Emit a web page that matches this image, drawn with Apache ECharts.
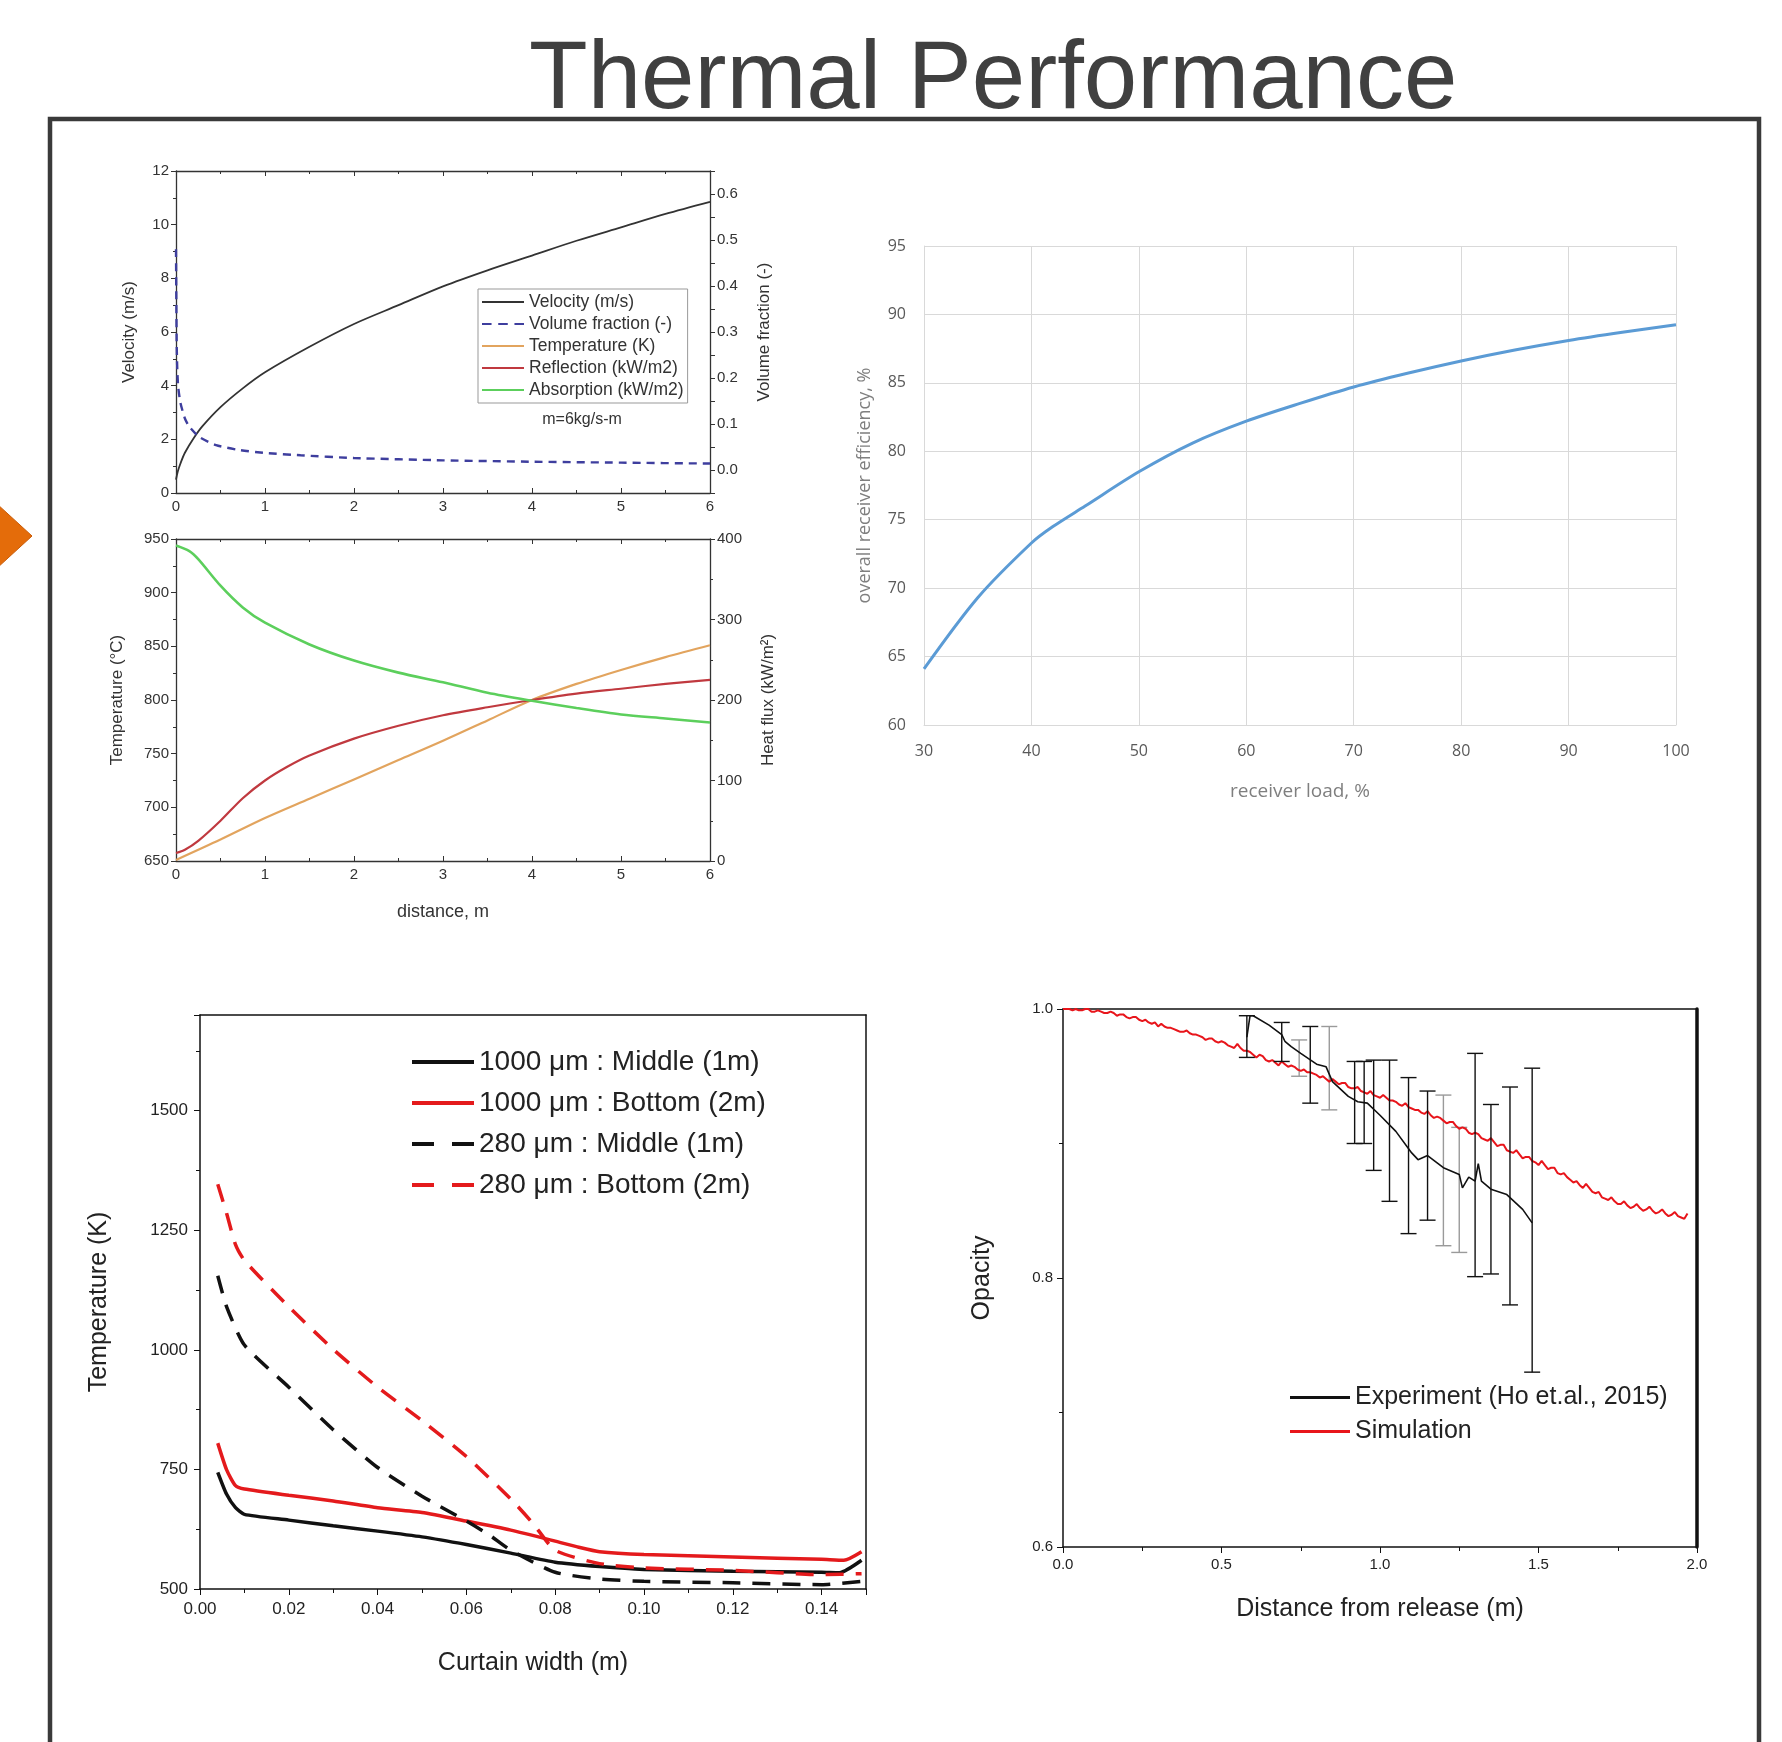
<!DOCTYPE html>
<html><head><meta charset="utf-8">
<script src="https://cdn.jsdelivr.net/npm/echarts@6/dist/echarts.min.js"></script>
<style>html,body{margin:0;padding:0;background:#fff}#c{width:1782px;height:1742px}</style>
</head><body><div id="c"></div>
<script>
// ---------- DATA ----------
const titleText = 'Thermal Performance';
// Chart 1 (top): velocity & volume fraction vs distance
const velocityData = [[0,0.5],[0.02,0.8],[0.05,1.1],[0.1,1.5],[0.2,2.05],[0.3,2.5],[0.5,3.2],[0.75,3.9],[1,4.5],[1.5,5.45],[2,6.3],[2.5,7.0],[3,7.7],[3.5,8.3],[4,8.85],[4.5,9.4],[5,9.9],[5.5,10.4],[6,10.85]];
const volFracData = [[0,0.48],[0.004,0.36],[0.008,0.27],[0.015,0.215],[0.025,0.18],[0.05,0.146],[0.1,0.112],[0.15,0.094],[0.26,0.072],[0.45,0.054],[0.71,0.0435],[1,0.037],[1.4,0.032],[2,0.026],[3,0.021],[4,0.018],[5,0.016],[6,0.014]];
// Chart 1 (bottom): temperature (°C), reflection & absorption (kW/m2)
const temperatureData = [[0,651],[0.5,670],[1,690],[1.5,708],[2,726],[2.5,744],[3,762],[3.5,781],[4,800],[4.5,815],[5,828],[5.5,840],[6,851]];
const reflectionData = [[0,10],[0.1,14],[0.25,25],[0.5,50],[0.75,78],[1,100],[1.25,117],[1.5,131],[2,152],[2.5,168],[3,181],[3.5,191],[4,200],[4.5,208],[5,214],[5.5,220],[6,225]];
const absorptionData = [[0,392],[0.15,385],[0.25,375],[0.5,342],[0.75,315],[1,296],[1.5,269],[2,249],[2.5,234],[3,222],[3.5,209],[4,199],[4.5,190],[5,182],[5.5,177],[6,172]];
const legend1Names = ['Velocity (m/s)','Volume fraction (-)','Temperature (K)','Reflection (kW/m2)','Absorption (kW/m2)'];
// Chart 2: efficiency vs load
const loadData = [30,35,40,42,45,50,55,60,65,70,75,80,85,90,95,100];
const efficiencyData = [64.1,69.3,73.3,74.5,76.0,78.5,80.6,82.2,83.5,84.7,85.7,86.6,87.4,88.1,88.7,89.25];
// Chart 3: temperature vs curtain width
const s1000Middle = [[0.004,744],[0.006,698],[0.008,670],[0.01,656],[0.02,644],[0.03,632],[0.04,621],[0.05,609],[0.06,593],[0.07,575],[0.08,556],[0.09,547],[0.10,541],[0.12,537],[0.14,535],[0.144,534],[0.149,560]];
const s1000Bottom = [[0.004,805],[0.006,749],[0.008,716],[0.01,709],[0.02,696],[0.03,684],[0.04,670],[0.05,660],[0.06,642],[0.07,623],[0.08,600],[0.085,588],[0.09,578],[0.10,572],[0.12,567],[0.14,562],[0.145,560],[0.149,578]];
const s280Middle = [[0.004,1155],[0.006,1090],[0.01,1010],[0.02,922],[0.03,833],[0.04,754],[0.05,694],[0.06,642],[0.065,614],[0.07,581],[0.08,535],[0.09,521],[0.10,516],[0.12,513],[0.14,509],[0.149,516]];
const s280Bottom = [[0.004,1346],[0.006,1285],[0.008,1220],[0.01,1187],[0.02,1090],[0.03,1001],[0.04,922],[0.05,852],[0.06,777],[0.07,688],[0.075,637],[0.08,581],[0.09,553],[0.10,544],[0.12,539],[0.14,530],[0.149,532]];
const legend3Names = ['1000 \u03bcm : Middle (1m)','1000 \u03bcm : Bottom (2m)','280 \u03bcm : Middle (1m)','280 \u03bcm : Bottom (2m)'];
// Chart 4: opacity vs distance
const simulationData = [[0,1.000],[0.01,1.000],[0.02,1.000],[0.03,0.999],[0.04,1.000],[0.05,0.999],[0.06,0.999],[0.07,1.000],[0.08,1.000],[0.09,0.998],[0.10,0.998],[0.11,0.999],[0.12,0.998],[0.13,0.997],[0.14,0.997],[0.15,0.998],[0.16,0.997],[0.17,0.995],[0.18,0.996],[0.19,0.996],[0.20,0.994],[0.21,0.993],[0.22,0.994],[0.23,0.994],[0.24,0.992],[0.25,0.991],[0.26,0.992],[0.27,0.990],[0.28,0.989],[0.29,0.990],[0.30,0.987],[0.31,0.989],[0.32,0.987],[0.33,0.986],[0.34,0.986],[0.35,0.985],[0.36,0.984],[0.37,0.983],[0.38,0.983],[0.39,0.984],[0.40,0.982],[0.41,0.981],[0.42,0.981],[0.43,0.980],[0.44,0.979],[0.45,0.977],[0.46,0.978],[0.47,0.978],[0.48,0.976],[0.49,0.975],[0.50,0.976],[0.51,0.975],[0.52,0.973],[0.53,0.972],[0.54,0.971],[0.55,0.974],[0.56,0.971],[0.57,0.969],[0.58,0.969],[0.59,0.968],[0.60,0.966],[0.61,0.964],[0.62,0.966],[0.63,0.965],[0.64,0.962],[0.65,0.961],[0.66,0.962],[0.67,0.960],[0.68,0.958],[0.69,0.961],[0.70,0.959],[0.71,0.957],[0.72,0.958],[0.73,0.957],[0.74,0.955],[0.75,0.954],[0.76,0.955],[0.77,0.953],[0.78,0.953],[0.79,0.952],[0.80,0.951],[0.81,0.949],[0.82,0.950],[0.83,0.948],[0.84,0.946],[0.85,0.948],[0.86,0.946],[0.87,0.944],[0.88,0.945],[0.89,0.945],[0.90,0.942],[0.91,0.941],[0.92,0.941],[0.93,0.942],[0.94,0.939],[0.95,0.938],[0.96,0.937],[0.97,0.939],[0.98,0.936],[0.99,0.935],[1.00,0.934],[1.01,0.936],[1.02,0.934],[1.03,0.932],[1.04,0.932],[1.05,0.931],[1.06,0.929],[1.07,0.928],[1.08,0.930],[1.09,0.927],[1.10,0.926],[1.11,0.925],[1.12,0.925],[1.13,0.923],[1.14,0.922],[1.15,0.924],[1.16,0.921],[1.17,0.919],[1.18,0.920],[1.19,0.919],[1.20,0.917],[1.21,0.915],[1.22,0.916],[1.23,0.916],[1.24,0.913],[1.25,0.911],[1.26,0.912],[1.27,0.911],[1.28,0.908],[1.29,0.907],[1.30,0.908],[1.31,0.907],[1.32,0.904],[1.33,0.903],[1.34,0.902],[1.35,0.904],[1.36,0.901],[1.37,0.898],[1.38,0.899],[1.39,0.899],[1.40,0.895],[1.41,0.894],[1.42,0.893],[1.43,0.895],[1.44,0.892],[1.45,0.889],[1.46,0.890],[1.47,0.890],[1.48,0.887],[1.49,0.886],[1.50,0.884],[1.51,0.887],[1.52,0.884],[1.53,0.881],[1.54,0.882],[1.55,0.882],[1.56,0.878],[1.57,0.877],[1.58,0.878],[1.59,0.875],[1.60,0.873],[1.61,0.871],[1.62,0.872],[1.63,0.869],[1.64,0.867],[1.65,0.870],[1.66,0.867],[1.67,0.864],[1.68,0.863],[1.69,0.864],[1.70,0.860],[1.71,0.859],[1.72,0.858],[1.73,0.860],[1.74,0.857],[1.75,0.855],[1.76,0.855],[1.77,0.857],[1.78,0.854],[1.79,0.852],[1.80,0.853],[1.81,0.855],[1.82,0.852],[1.83,0.850],[1.84,0.851],[1.85,0.853],[1.86,0.850],[1.87,0.848],[1.88,0.849],[1.89,0.851],[1.90,0.848],[1.91,0.846],[1.92,0.847],[1.93,0.849],[1.94,0.846],[1.95,0.845],[1.96,0.844],[1.97,0.848]];
const experimentData = [[0.58,0.979],[0.59,0.995],[0.6,0.995],[0.65,0.988],[0.69,0.981],[0.7,0.976],[0.72,0.972],[0.75,0.967],[0.8,0.959],[0.83,0.957],[0.85,0.946],[0.9,0.935],[0.93,0.931],[0.96,0.930],[1.0,0.921],[1.05,0.909],[1.1,0.893],[1.12,0.888],[1.15,0.891],[1.2,0.882],[1.25,0.877],[1.26,0.867],[1.28,0.875],[1.3,0.872],[1.31,0.885],[1.32,0.872],[1.35,0.866],[1.4,0.862],[1.45,0.851],[1.48,0.841]];
const errBarsDark = [[0.58,0.964,0.995],[0.69,0.961,0.990],[0.78,0.930,0.987],[0.92,0.900,0.961],[0.95,0.900,0.961],[0.98,0.880,0.962],[1.03,0.857,0.962],[1.09,0.833,0.949],[1.15,0.843,0.939],[1.30,0.801,0.967],[1.35,0.803,0.929],[1.41,0.780,0.942],[1.48,0.730,0.956]];
const errBarsLight = [[0.745,0.950,0.977],[0.84,0.925,0.987],[1.20,0.824,0.936],[1.25,0.819,0.912]];
const legend4Names = ['Experiment (Ho et.al., 2015)','Simulation'];

// ---------- CHART ----------
const F = 'Liberation Sans, Arial, sans-serif';
const F2 = 'Open Sans, Lato, sans-serif';
const SOLID = 'path://M0,0H60V4H0Z';
const DASH1 = 'path://M0,0H10V4H0ZM17,0H27V4H17ZM34,0H44V4H34Z';
const DASH3 = 'path://M0,0H22V4H0ZM40,0H62V4H40Z';
const chart = echarts.init(document.getElementById('c'), null, {renderer:'canvas'});
const axLine = (w,c) => ({show:true, onZero:false, lineStyle:{color:c||'#333', width:w||1.3}});
const mirrorX = (g, min, max, interval, ticks) => ({gridIndex:g, type:'value', position:'top', min, max, interval,
  axisLine:axLine(1.3), axisLabel:{show:false}, splitLine:{show:false},
  axisTick:{show:!!ticks, inside:true, length:5, lineStyle:{color:'#333'}},
  minorTick:{show:!!ticks, splitNumber:2, length:3, lineStyle:{color:'#333'}}});
const plain = v => String(v);

function errRender(color){
  return function(params, api){
    const x = api.value(0), lo = api.value(1), hi = api.value(2);
    const a = api.coord([x, hi]), b = api.coord([x, lo]);
    const w = 8, st = {stroke:color, lineWidth:1.4};
    return {type:'group', children:[
      {type:'line', shape:{x1:a[0],y1:a[1],x2:b[0],y2:b[1]}, style:st},
      {type:'line', shape:{x1:a[0]-w,y1:a[1],x2:a[0]+w,y2:a[1]}, style:st},
      {type:'line', shape:{x1:b[0]-w,y1:b[1],x2:b[0]+w,y2:b[1]}, style:st}
    ]};
  };
}

const option = {
  backgroundColor:'#fff',
  animation:false,
  textStyle:{fontFamily:F},
  graphic:[
    {type:'text', left:991-462, top:34, style:{text:titleText, font:'96px Liberation Sans, Arial, sans-serif', fill:'#404040'}},
    {type:'rect', shape:{x:50, y:119, width:1709, height:1650}, style:{fill:'none', stroke:'#3a3a3a', lineWidth:4.5}},
    {type:'polygon', shape:{points:[[-4,503],[32,536],[-4,569]]}, style:{fill:'#E46C0A', stroke:'#c85a05', lineWidth:1}},
    {type:'text', x:582, y:420, style:{text:'m=6kg/s-m', font:'16px Liberation Sans, Arial, sans-serif', fill:'#333', textAlign:'center', textVerticalAlign:'middle'}}
  ],
  grid:[
    {left:176, top:171, width:534, height:322},
    {left:176, top:539, width:534, height:322},
    {left:924, top:246, width:752, height:479},
    {left:200, top:1015, width:666, height:574},
    {left:1063, top:1009, width:634, height:538}
  ],
  legend:[
    {data:[{name:legend1Names[0],icon:SOLID},{name:legend1Names[1],icon:DASH1},{name:legend1Names[2],icon:SOLID},{name:legend1Names[3],icon:SOLID},{name:legend1Names[4],icon:SOLID}],
     left:478, top:289, orient:'vertical', itemGap:4, itemWidth:42, itemHeight:2, symbolKeepAspect:false,
     textStyle:{fontSize:17.5, color:'#333', fontFamily:F}, borderColor:'#999', borderWidth:1, padding:[4,4,4,4], selectedMode:false},
    {data:[{name:legend3Names[0],icon:SOLID},{name:legend3Names[1],icon:SOLID},{name:legend3Names[2],icon:DASH3},{name:legend3Names[3],icon:DASH3}],
     left:407, top:1043, orient:'vertical', itemGap:13, itemWidth:62, itemHeight:4, symbolKeepAspect:false,
     textStyle:{fontSize:28, color:'#222', fontFamily:F}, selectedMode:false},
    {data:[{name:legend4Names[0],icon:SOLID},{name:legend4Names[1],icon:SOLID}],
     left:1285, top:1380, orient:'vertical', itemGap:9, itemWidth:60, itemHeight:3, symbolKeepAspect:false,
     textStyle:{fontSize:25, color:'#222', fontFamily:F}, selectedMode:false}
  ],
  xAxis:[
    {gridIndex:0, type:'value', min:0, max:6, interval:1, axisLine:axLine(1.3),
     axisTick:{inside:true, length:5, lineStyle:{color:'#333'}}, minorTick:{show:true, splitNumber:2, length:3, lineStyle:{color:'#333'}},
     axisLabel:{fontSize:15, color:'#333', margin:6}, splitLine:{show:false}},
    mirrorX(0,0,6,1,true),
    {gridIndex:1, type:'value', min:0, max:6, interval:1, axisLine:axLine(1.3),
     axisTick:{inside:true, length:5, lineStyle:{color:'#333'}}, minorTick:{show:true, splitNumber:2, length:3, lineStyle:{color:'#333'}},
     axisLabel:{fontSize:15, color:'#333', margin:6}, splitLine:{show:false},
     name:'distance, m', nameLocation:'middle', nameGap:42, nameTextStyle:{fontSize:18, color:'#333'}},
    mirrorX(1,0,6,1,true),
    {gridIndex:2, type:'value', min:30, max:100, interval:10, axisLine:{show:true, onZero:false, lineStyle:{color:'#d9d9d9'}},
     axisTick:{show:false}, axisLabel:{fontSize:16, color:'#595959', margin:18, fontFamily:F2},
     splitLine:{show:true, lineStyle:{color:'#d9d9d9', width:1}},
     name:'receiver load, %', nameLocation:'middle', nameGap:57, nameTextStyle:{fontSize:19, color:'#7f7f7f', fontFamily:F2}},
    {gridIndex:3, type:'value', min:0, max:0.15, interval:0.02, axisLine:axLine(1.5,'#111'),
     axisTick:{length:6, lineStyle:{color:'#111'}}, minorTick:{show:true, splitNumber:2, length:4, lineStyle:{color:'#111'}},
     axisLabel:{fontSize:17, color:'#222', margin:12, showMaxLabel:false, formatter:v=>v.toFixed(2)}, splitLine:{show:false},
     name:'Curtain width (m)', nameLocation:'middle', nameGap:62, nameTextStyle:{fontSize:25, color:'#222'}},
    {gridIndex:3, type:'value', position:'top', min:0, max:0.15, axisLine:axLine(1.5,'#111'), axisTick:{show:false}, axisLabel:{show:false}, splitLine:{show:false}},
    {gridIndex:4, type:'value', min:0, max:2, interval:0.5, axisLine:axLine(1.5,'#111'),
     axisTick:{length:6, lineStyle:{color:'#111'}}, minorTick:{show:true, splitNumber:2, length:4, lineStyle:{color:'#111'}},
     axisLabel:{fontSize:15, color:'#222', margin:10, formatter:v=>v.toFixed(1)}, splitLine:{show:false},
     name:'Distance from release (m)', nameLocation:'middle', nameGap:50, nameTextStyle:{fontSize:25, color:'#222'}},
    {gridIndex:4, type:'value', position:'top', min:0, max:2, axisLine:axLine(1.5,'#111'), axisTick:{show:false}, axisLabel:{show:false}, splitLine:{show:false}}
  ],
  yAxis:[
    {gridIndex:0, type:'value', min:0, max:12, interval:2, axisLine:axLine(1.3),
     axisTick:{length:5, lineStyle:{color:'#333'}}, minorTick:{show:true, splitNumber:2, length:3, lineStyle:{color:'#333'}},
     axisLabel:{fontSize:15, color:'#333', margin:7, formatter:plain}, splitLine:{show:false},
     name:'Velocity (m/s)', nameLocation:'middle', nameGap:38, nameTextStyle:{fontSize:17, color:'#333'}},
    {gridIndex:0, type:'value', position:'right', min:-0.05, max:0.65, interval:0.05, axisLine:axLine(1.3),
     axisTick:{length:5, lineStyle:{color:'#333'}},
     axisLabel:{fontSize:15, color:'#333', margin:7, formatter:v=>{const k=Math.round(v*100); return (k>=0 && k<=60 && k%10===0)? (k/100).toFixed(1):'';}},
     splitLine:{show:false},
     name:'Volume fraction (-)', nameLocation:'middle', nameGap:46, nameRotate:90, nameTextStyle:{fontSize:17, color:'#333'}},
    {gridIndex:1, type:'value', min:650, max:950, interval:50, axisLine:axLine(1.3),
     axisTick:{length:5, lineStyle:{color:'#333'}}, minorTick:{show:true, splitNumber:2, length:3, lineStyle:{color:'#333'}},
     axisLabel:{fontSize:15, color:'#333', margin:7, formatter:plain}, splitLine:{show:false},
     name:'Temperature (\u00b0C)', nameLocation:'middle', nameGap:50, nameTextStyle:{fontSize:17, color:'#333'}},
    {gridIndex:1, type:'value', position:'right', min:0, max:400, interval:100, axisLine:axLine(1.3),
     axisTick:{length:5, lineStyle:{color:'#333'}}, minorTick:{show:true, splitNumber:2, length:3, lineStyle:{color:'#333'}},
     axisLabel:{fontSize:15, color:'#333', margin:7, formatter:plain}, splitLine:{show:false},
     name:'Heat flux (kW/m\u00b2)', nameLocation:'middle', nameGap:50, nameRotate:90, nameTextStyle:{fontSize:17, color:'#333'}},
    {gridIndex:2, type:'value', min:60, max:95, interval:5, axisLine:{show:true, onZero:false, lineStyle:{color:'#d9d9d9'}},
     axisTick:{show:false}, axisLabel:{fontSize:16, color:'#595959', margin:18, fontFamily:F2},
     splitLine:{show:true, lineStyle:{color:'#d9d9d9', width:1}},
     name:'overall receiver efficiency, %', nameLocation:'middle', nameGap:50, nameTextStyle:{fontSize:18, color:'#7f7f7f', fontFamily:F2}},
    {gridIndex:3, type:'value', min:500, max:1700, interval:250, axisLine:axLine(1.5,'#111'),
     axisTick:{length:6, lineStyle:{color:'#111'}}, minorTick:{show:true, splitNumber:2, length:4, lineStyle:{color:'#111'}},
     axisLabel:{fontSize:17, color:'#222', margin:12, showMaxLabel:false, formatter:plain}, splitLine:{show:false},
     name:'Temperature (K)', nameLocation:'middle', nameGap:88, nameTextStyle:{fontSize:25, color:'#222'}},
    {gridIndex:3, type:'value', position:'right', min:500, max:1700, axisLine:axLine(1.5,'#111'), axisTick:{show:false}, axisLabel:{show:false}, splitLine:{show:false}},
    {gridIndex:4, type:'value', min:0.6, max:1.0, interval:0.2, axisLine:axLine(1.5,'#111'),
     axisTick:{length:6, lineStyle:{color:'#111'}}, minorTick:{show:true, splitNumber:2, length:4, lineStyle:{color:'#111'}},
     axisLabel:{fontSize:15, color:'#222', margin:10, formatter:v=>v.toFixed(1)}, splitLine:{show:false},
     name:'Opacity', nameLocation:'middle', nameGap:68, nameTextStyle:{fontSize:25, color:'#222'}},
    {gridIndex:4, type:'value', position:'right', min:0.6, max:1.0, axisLine:axLine(3.5,'#111'), axisTick:{show:false}, axisLabel:{show:false}, splitLine:{show:false}}
  ],
  series:[
    {name:legend1Names[0], type:'line', xAxisIndex:0, yAxisIndex:0, data:velocityData, showSymbol:false, symbol:'none', smooth:0.3,
     lineStyle:{color:'#333', width:1.8}, itemStyle:{color:'#333'}},
    {name:legend1Names[1], type:'line', xAxisIndex:0, yAxisIndex:1, data:volFracData, showSymbol:false, symbol:'none', smooth:0.2,
     lineStyle:{color:'#3e3e9e', width:2.4, type:[8,6]}, itemStyle:{color:'#3e3e9e'}},
    {name:legend1Names[2], type:'line', xAxisIndex:2, yAxisIndex:2, data:temperatureData, showSymbol:false, symbol:'none', smooth:0.3,
     lineStyle:{color:'#e2a45e', width:2.2}, itemStyle:{color:'#e2a45e'}},
    {name:legend1Names[3], type:'line', xAxisIndex:2, yAxisIndex:3, data:reflectionData, showSymbol:false, symbol:'none', smooth:0.3,
     lineStyle:{color:'#c0393f', width:2.2}, itemStyle:{color:'#c0393f'}},
    {name:legend1Names[4], type:'line', xAxisIndex:2, yAxisIndex:3, data:absorptionData, showSymbol:false, symbol:'none', smooth:0.3,
     lineStyle:{color:'#5ccf5c', width:2.6}, itemStyle:{color:'#5ccf5c'}},
    {name:'efficiency', type:'line', xAxisIndex:4, yAxisIndex:4, data:loadData.map((x,i)=>[x,efficiencyData[i]]), showSymbol:false, symbol:'none', smooth:0.3,
     lineStyle:{color:'#5b9bd5', width:3}},
    {name:legend3Names[0], type:'line', xAxisIndex:5, yAxisIndex:5, data:s1000Middle, showSymbol:false, symbol:'none', smooth:0.2,
     lineStyle:{color:'#111', width:3.5}, itemStyle:{color:'#111'}},
    {name:legend3Names[1], type:'line', xAxisIndex:5, yAxisIndex:5, data:s1000Bottom, showSymbol:false, symbol:'none', smooth:0.2,
     lineStyle:{color:'#e41a1c', width:3.5}, itemStyle:{color:'#e41a1c'}},
    {name:legend3Names[2], type:'line', xAxisIndex:5, yAxisIndex:5, data:s280Middle, showSymbol:false, symbol:'none', smooth:0.2,
     lineStyle:{color:'#111', width:3.5, type:[18,12]}, itemStyle:{color:'#111'}},
    {name:legend3Names[3], type:'line', xAxisIndex:5, yAxisIndex:5, data:s280Bottom, showSymbol:false, symbol:'none', smooth:0.2,
     lineStyle:{color:'#e41a1c', width:3.5, type:[18,12]}, itemStyle:{color:'#e41a1c'}},
    {name:'errLight', type:'custom', xAxisIndex:7, yAxisIndex:7, data:errBarsLight, renderItem:errRender('#9a9a9a'), encode:{x:0, y:[1,2]}, z:2},
    {name:'errDark', type:'custom', xAxisIndex:7, yAxisIndex:7, data:errBarsDark, renderItem:errRender('#111'), encode:{x:0, y:[1,2]}, z:4},
    {name:legend4Names[1], type:'line', xAxisIndex:7, yAxisIndex:7, data:simulationData, showSymbol:false, symbol:'none',
     lineStyle:{color:'#e8151b', width:2}, itemStyle:{color:'#e8151b'}, z:3},
    {name:legend4Names[0], type:'line', xAxisIndex:7, yAxisIndex:7, data:experimentData, showSymbol:false, symbol:'none',
     lineStyle:{color:'#111', width:1.6}, itemStyle:{color:'#111'}, z:5}
  ]
};
chart.setOption(option);
</script></body></html>
